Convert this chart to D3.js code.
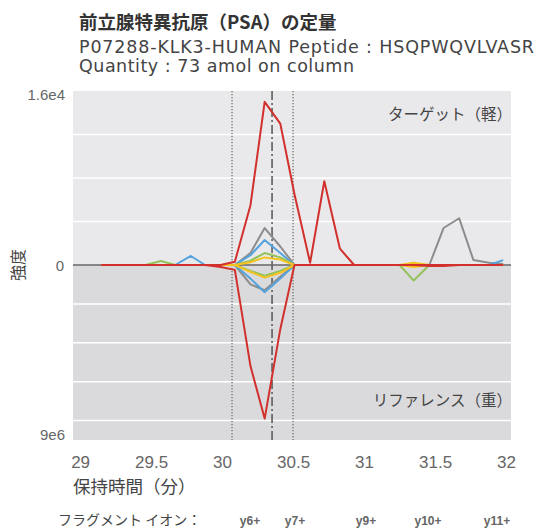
<!DOCTYPE html>
<html>
<head>
<meta charset="utf-8">
<script src="https://d3js.org/d3.v7.min.js"></script>
<style>
    body { margin: 0; background: #fff; }
    text { font-family: "DejaVu Sans", Verdana, sans-serif; }
    .jp { font-family: "Noto Sans CJK JP", sans-serif; }
    .tick-label { font-family: "Liberation Sans", Arial, sans-serif; fill: #666; }
</style>
</head>
<body>
<svg id="chart" width="536" height="530"></svg>
<script>
    // retention time (min) of each scan
    const times = [29.15, 29.25, 29.36, 29.46, 29.57, 29.67, 29.78, 29.88, 29.99, 30.09,
        30.20, 30.30, 30.41, 30.51, 30.62, 30.72, 30.83, 30.93, 31.04, 31.14,
        31.25, 31.35, 31.46, 31.56, 31.67, 31.77, 31.88, 31.98];

    // target (light) intensities, upper half
    const lightGray   = [0,0,0,0,0,0,0,0,0,0, 1100,3400,1700,0,0,0,0,0,0,0, 0,0,0,3400,4300,460,200,100];
    const lightBlue   = [0,0,0,0,0,0,830,0,0,0, 900,2300,1100,0,0,0,0,0,0,0, 0,0,0,0,0,0,0,450];
    const lightGreen  = [0,0,0,0,370,0,0,0,0,0, 400,1100,700,0,0,0,0,0,0,0, 0,0,0,0,0,0,0,0];
    const lightYellow = [0,0,0,0,0,0,0,0,0,0, 250,700,500,0,0,0,0,0,0,0, 0,200,0,0,0,0,0,0];
    const lightRed    = [0,0,0,0,0,0,0,0,0,300, 5500,15000,13000,6500,200,7700,1500,0,0,0, 0,0,0,0,0,0,0,0];

    // reference (heavy) intensities, lower half
    const heavyGray   = [0,0,0,0,0,0,0,0,0,0, 1.0e6,1.3e6,0.6e6,0,0,0,0,0,0,0, 0,0,0,0,0,0,0,0];
    const heavyBlue   = [0,0,0,0,0,0,0,0,0,0, 0.7e6,1.4e6,0.7e6,0,0,0,0,0,0,0, 0,0,0,0,0,0,0,0];
    const heavyGreen  = [0,0,0,0,0,0,0,0,0,0, 0.3e6,0.55e6,0.3e6,0,0,0,0,0,0,0, 0,0.8e6,0,0,0,0,0,0];
    const heavyYellow = [0,0,0,0,0,0,0,0,0,0, 0.35e6,0.65e6,0.4e6,0,0,0,0,0,0,0, 0,0.1e6,0,0,0,0,0,0];
    const heavyRed    = [0,0,0,0,0,0,0,0,0.1e6,0.25e6, 5.2e6,7.9e6,3.3e6,0,0,0,0,0,0,0, 0,0,0.05e6,0.05e6,0,0,0,0];

    const xTicks = [29, 29.5, 30, 30.5, 31, 31.5, 32];
    const topGrid = [4000, 8000, 12000];
    const bottomGrid = [2e6, 4e6, 6e6, 8e6];
    const boundaryTimes = [30.07, 30.50];
    const apexTime = 30.352;
    const ionLabels = ["y6+", "y7+", "y9+", "y10+", "y11+"];
    const ionX = [250, 295, 366, 428, 497];

    const series = [
        { name: "gray", color: "#8c8c8c", light: lightGray, heavy: heavyGray },
        { name: "blue", color: "#55a3de", light: lightBlue, heavy: heavyBlue },
        { name: "green", color: "#93c25a", light: lightGreen, heavy: heavyGreen },
        { name: "yellow", color: "#f5c21e", light: lightYellow, heavy: heavyYellow },
        { name: "red", color: "#d2302c", light: lightRed, heavy: heavyRed }
    ];

    const svg = d3.select("#chart");
    const plot = { left: 73, right: 511, top: 91, zero: 265, bottom: 440 };

    const x = d3.scaleLinear().domain([28.95, 32.035]).range([plot.left, plot.right]);
    const yTop = d3.scaleLinear().domain([0, 16000]).range([plot.zero, plot.top]);
    const yBot = d3.scaleLinear().domain([0, 9e6]).range([plot.zero, plot.bottom]);

    // title block
    svg.append("text").attr("class", "jp").attr("x", 79).attr("y", 29)
        .attr("font-size", 18.5).attr("font-weight", "bold").attr("fill", "#333")
        .text("前立腺特異抗原（PSA）の定量");
    svg.append("text").attr("x", 79).attr("y", 53)
        .attr("font-size", 17.5).attr("fill", "#444")
        .attr("textLength", 455).attr("lengthAdjust", "spacing")
        .text("P07288-KLK3-HUMAN Peptide : HSQPWQVLVASR");
    svg.append("text").attr("x", 79).attr("y", 72)
        .attr("font-size", 17.5).attr("fill", "#444")
        .attr("textLength", 275).attr("lengthAdjust", "spacing")
        .text("Quantity : 73 amol on column");

    // backgrounds
    svg.append("rect").attr("x", plot.left).attr("y", plot.top)
        .attr("width", plot.right - plot.left).attr("height", plot.zero - plot.top)
        .attr("fill", "#e9e9eb");
    svg.append("rect").attr("x", plot.left).attr("y", plot.zero)
        .attr("width", plot.right - plot.left).attr("height", plot.bottom - plot.zero)
        .attr("fill", "#dadadc");

    // gridlines
    svg.selectAll("line.gtop").data(topGrid).join("line").attr("class", "gtop")
        .attr("x1", plot.left).attr("x2", plot.right)
        .attr("y1", d => yTop(d)).attr("y2", d => yTop(d))
        .attr("stroke", "#fff").attr("stroke-width", 1.5);
    svg.selectAll("line.gbot").data(bottomGrid).join("line").attr("class", "gbot")
        .attr("x1", plot.left).attr("x2", plot.right)
        .attr("y1", d => yBot(d)).attr("y2", d => yBot(d))
        .attr("stroke", "#fff").attr("stroke-width", 1.5);

    // integration boundaries + apex
    svg.selectAll("line.bound").data(boundaryTimes).join("line").attr("class", "bound")
        .attr("x1", d => x(d)).attr("x2", d => x(d))
        .attr("y1", plot.top).attr("y2", plot.bottom)
        .attr("stroke", "#666").attr("stroke-width", 1.2).attr("stroke-dasharray", "1.2,1.8");
    svg.append("line")
        .attr("x1", x(apexTime)).attr("x2", x(apexTime))
        .attr("y1", plot.top).attr("y2", plot.bottom)
        .attr("stroke", "#555").attr("stroke-width", 1.5).attr("stroke-dasharray", "9,3,2,3");

    // zero line
    svg.append("line").attr("x1", plot.left).attr("x2", plot.right)
        .attr("y1", plot.zero).attr("y2", plot.zero)
        .attr("stroke", "#666").attr("stroke-width", 1.5);

    const lineTop = d3.line().x((d, i) => x(times[i])).y(d => yTop(d));
    const lineBot = d3.line().x((d, i) => x(times[i])).y(d => yBot(d));

    series.forEach(s => {
        svg.append("path").attr("d", lineBot(s.heavy))
            .attr("fill", "none").attr("stroke", s.color).attr("stroke-width", 2)
            .attr("stroke-linejoin", "round");
        svg.append("path").attr("d", lineTop(s.light))
            .attr("fill", "none").attr("stroke", s.color).attr("stroke-width", 2)
            .attr("stroke-linejoin", "round");
    });

    // y labels
    svg.append("text").attr("class", "tick-label").attr("x", 65).attr("y", 100)
        .attr("text-anchor", "end").attr("font-size", 15).text("1.6e4");
    svg.append("text").attr("class", "tick-label").attr("x", 64).attr("y", 271)
        .attr("text-anchor", "end").attr("font-size", 15).text("0");
    svg.append("text").attr("class", "tick-label").attr("x", 65).attr("y", 440)
        .attr("text-anchor", "end").attr("font-size", 15).text("9e6");
    svg.append("text").attr("class", "jp")
        .attr("transform", "translate(24,265) rotate(-90)")
        .attr("text-anchor", "middle").attr("font-size", 16).attr("fill", "#444")
        .text("強度");

    // x axis
    const xAxis = d3.axisBottom(x).tickValues(xTicks).tickSize(0).tickFormat(d3.format("~g"));
    const xg = svg.append("g").attr("transform", `translate(0,${plot.bottom})`).call(xAxis);
    xg.select(".domain").remove();
    xg.selectAll("text").attr("class", "tick-label").attr("font-size", 17)
        .attr("dy", 0).attr("y", 28);

    svg.append("text").attr("class", "jp").attr("x", 73).attr("y", 493)
        .attr("font-size", 17.5).attr("fill", "#444").text("保持時間（分）");

    // panel labels
    svg.append("text").attr("class", "jp").attr("x", 512).attr("y", 120)
        .attr("text-anchor", "end").attr("font-size", 15.5).attr("fill", "#444")
        .text("ターゲット（軽）");
    svg.append("text").attr("class", "jp").attr("x", 512).attr("y", 406)
        .attr("text-anchor", "end").attr("font-size", 15.5).attr("fill", "#444")
        .text("リファレンス（重）");

    // fragment ion legend
    svg.append("text").attr("class", "jp").attr("x", 58).attr("y", 525)
        .attr("font-size", 14).attr("fill", "#444").text("フラグメント イオン：");
    svg.selectAll("text.ion").data(ionLabels).join("text").attr("class", "ion tick-label")
        .attr("x", (d, i) => ionX[i]).attr("y", 525)
        .attr("text-anchor", "middle").attr("font-size", 12).attr("font-weight", "bold")
        .attr("fill", "#777").text(d => d);
</script>
</body>
</html>
